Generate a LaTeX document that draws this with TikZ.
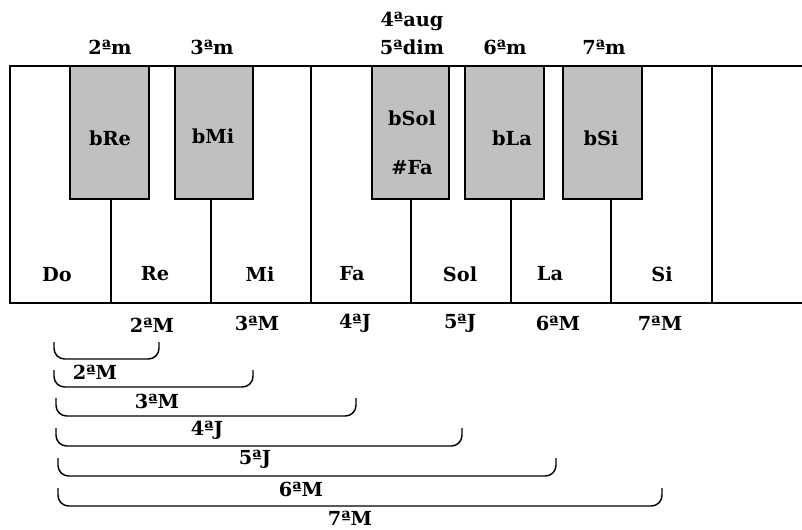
\documentclass[tikz,border=0pt]{standalone}
\usepackage{fontspec}
\setmainfont{DejaVu Serif}
\begin{document}
\begin{tikzpicture}[x=0.75pt,y=-0.75pt,
  keyline/.style={line width=1.1pt,black},
  blackkey/.style={keyline,fill={rgb,255:red,192;green,192;blue,192}},
  lbl/.style={font=\bfseries\fontsize{14.5}{16}\selectfont,inner sep=0pt,align=center},
  brace/.style={line width=1.1pt,rounded corners=8}]
\useasboundingbox (0,0) rectangle (802,529);
% white keys outline
\draw[keyline] (802,66) -- (10,66) -- (10,303) -- (802,303);
\draw[keyline] (311,66) -- (311,303);
\draw[keyline] (712,66) -- (712,303);
\foreach \x in {111,211,411,511,611} \draw[keyline] (\x,199) -- (\x,303);
% black keys
\draw[blackkey] (70,66) rectangle (149,199);
\draw[blackkey] (175,66) rectangle (253,199);
\draw[blackkey] (372,66) rectangle (449,199);
\draw[blackkey] (465,66) rectangle (544,199);
\draw[blackkey] (563,66) rectangle (642,199);
% black key labels
\node[lbl] (bre) at (110,138) {bRe};
\node[lbl] (bmi) at (213,136) {bMi};
\node[lbl] (bsol) at (412,118) {bSol};
\node[lbl] (fa2) at (412,168) {\#Fa};
\node[lbl] (bla) at (512,138) {bLa};
\node[lbl] (bsi) at (601,138) {bSi};
% white key labels
\node[lbl] (do) at (57,275) {Do};
\node[lbl] (re) at (155,274) {Re};
\node[lbl] (mi) at (260,274) {Mi};
\node[lbl] (fa) at (352,274) {Fa};
\node[lbl] (sol) at (460,274) {Sol};
\node[lbl] (la) at (550,274) {La};
\node[lbl] (si) at (662,274) {Si};
% top labels
\node[lbl] (t2) at (110,47) {2ªm};
\node[lbl] (t3) at (212,47) {3ªm};
\node[lbl] (t4) at (412,21) {4ªaug};
\node[lbl] (t5) at (412,47) {5ªdim};
\node[lbl] (t6) at (505,47) {6ªm};
\node[lbl] (t7) at (604,47) {7ªm};
% bottom labels
\node[lbl] (b2) at (152,325) {2ªM};
\node[lbl] (b3) at (257,323) {3ªM};
\node[lbl] (b4) at (355,323) {4ªJ};
\node[lbl] (b5) at (460,323) {5ªJ};
\node[lbl] (b6) at (558,323) {6ªM};
\node[lbl] (b7) at (660,323) {7ªM};
% brackets
\draw[brace] (54,342) -- (54,359) -- (159,359) -- (159,342);
\node[lbl] (r2) at (95,372) {2ªM};
\draw[brace] (54,370) -- (54,387) -- (253,387) -- (253,370);
\node[lbl] (r3) at (157,401) {3ªM};
\draw[brace] (56,398) -- (56,416) -- (356,416) -- (356,398);
\node[lbl] (r4) at (207,430) {4ªJ};
\draw[brace] (56,428) -- (56,446) -- (462,446) -- (462,428);
\node[lbl] (r5) at (255,459) {5ªJ};
\draw[brace] (58,458) -- (58,476) -- (556,476) -- (556,458);
\node[lbl] (r6) at (301,489) {6ªM};
\draw[brace] (58,488) -- (58,506) -- (662,506) -- (662,488);
\node[lbl] (r7) at (350,518) {7ªM};
\end{tikzpicture}
\end{document}
